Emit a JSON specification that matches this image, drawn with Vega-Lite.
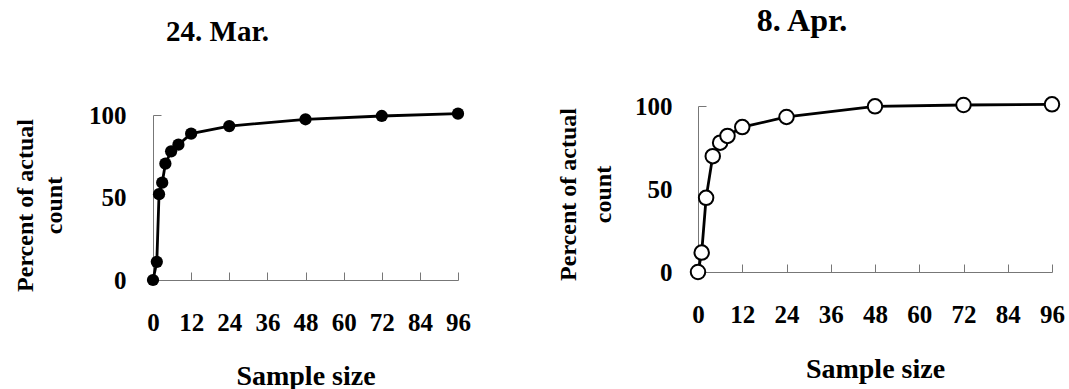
{
  "$schema": "https://vega.github.io/schema/vega-lite/v6.json",
  "padding": {"left": 13, "top": 5, "right": 5, "bottom": 0},
  "background": "white",
  "datasets": {
    "mar": [
      {"x": 0, "y": 0}, {"x": 1.2, "y": 11}, {"x": 1.9, "y": 52}, {"x": 2.9, "y": 59},
      {"x": 3.9, "y": 70.5}, {"x": 5.7, "y": 78}, {"x": 8, "y": 82}, {"x": 12, "y": 88.7},
      {"x": 24, "y": 93.3}, {"x": 48, "y": 97.4}, {"x": 72, "y": 99.4}, {"x": 96, "y": 100.8}
    ],
    "apr": [
      {"x": 0, "y": 0}, {"x": 1, "y": 11.7}, {"x": 2.2, "y": 44.7}, {"x": 4, "y": 69.8},
      {"x": 6, "y": 77.9}, {"x": 8, "y": 82}, {"x": 12, "y": 87.3}, {"x": 24, "y": 93.4},
      {"x": 48, "y": 99.8}, {"x": 72, "y": 100.6}, {"x": 96, "y": 101}
    ]
  },
  "config": {
    "view": {"stroke": null},
    "font": "Liberation Serif",
    "axis": {
      "labelFont": "Liberation Serif", "labelFontWeight": "bold", "labelFontSize": 25, "labelColor": "black",
      "titleFont": "Liberation Serif", "titleFontWeight": "bold", "titleColor": "black",
      "domainColor": "#777", "tickColor": "#777", "grid": false, "domainWidth": 1, "tickWidth": 1,
      "labelFlush": false, "labelOverlap": false, "labelBound": false
    },
    "title": {"font": "Liberation Serif", "fontWeight": "bold", "color": "black", "anchor": "middle", "frame": "group", "baseline": "middle"}
  },
  "spacing": 85,
  "hconcat": [
    {
      "width": 305, "height": 174,
      "title": {"text": "24. Mar.", "fontSize": 29, "dx": -88, "offset": 56},
      "data": {"name": "mar"},
      "encoding": {
        "x": {"field": "x", "type": "quantitative", "scale": {"domain": [0, 96], "nice": false},
          "axis": {"values": [0, 12, 24, 36, 48, 60, 72, 84, 96], "tickSize": -8, "labelPadding": 38,
            "title": "Sample size", "titleFontSize": 28, "titleY": 96, "titleBaseline": "middle"}},
        "y": {"field": "y", "type": "quantitative", "scale": {"domain": [0, 100], "nice": false, "range": [174, 9]},
          "axis": {"values": [0, 50, 100], "tickSize": -8, "labelPadding": 35,
            "title": ["Percent of actual", "count"], "titleFontSize": 24, "titleAngle": -90,
            "titleX": -128, "titleY": 99, "titleAlign": "center", "titleBaseline": "middle", "titleLineHeight": 29,
            "tickOpacity": {"condition": {"test": "datum.value === 100", "value": 1}, "value": 0}}}
      },
      "layer": [
        {"mark": {"type": "line", "color": "black", "strokeWidth": 2.8}},
        {"mark": {"type": "point", "shape": "circle", "filled": true, "color": "black", "size": 150, "opacity": 1}}
      ]
    },
    {
      "width": 354, "height": 166,
      "title": {"text": "8. Apr.", "fontSize": 32, "dx": -73, "offset": 55},
      "data": {"name": "apr"},
      "encoding": {
        "x": {"field": "x", "type": "quantitative", "scale": {"domain": [0, 96], "nice": false},
          "axis": {"values": [0, 12, 24, 36, 48, 60, 72, 84, 96], "tickSize": -8, "labelPadding": 38,
            "title": "Sample size", "titleFontSize": 28, "titleY": 97, "titleBaseline": "middle"}},
        "y": {"field": "y", "type": "quantitative", "scale": {"domain": [0, 100], "nice": false},
          "axis": {"values": [0, 50, 100], "tickSize": -8, "labelPadding": 34,
            "title": ["Percent of actual", "count"], "titleFontSize": 24, "titleAngle": -90,
            "titleX": -130, "titleY": 88, "titleAlign": "center", "titleBaseline": "middle", "titleLineHeight": 35,
            "tickOpacity": {"condition": {"test": "datum.value === 100", "value": 1}, "value": 0}}}
      },
      "layer": [
        {"mark": {"type": "line", "color": "black", "strokeWidth": 2.8}},
        {"mark": {"type": "point", "shape": "circle", "filled": true, "fill": "white", "stroke": "black", "strokeWidth": 2, "size": 210, "opacity": 1}}
      ]
    }
  ]
}
